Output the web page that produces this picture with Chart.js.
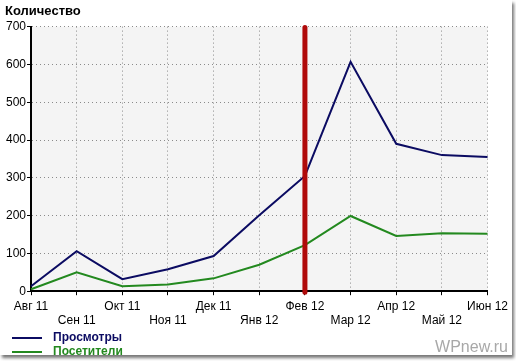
<!DOCTYPE html>
<html>
<head>
<meta charset="utf-8">
<script src="https://cdn.jsdelivr.net/npm/chart.js@4"></script>
<style>
  body { margin: 0; background: #fff; }
  #frame {
    position: absolute; left: 0; top: 0;
    width: 512px; height: 355px;
    background: #fff;
    box-shadow: 2px 3px 3px #777;
  }
</style>
</head>
<body>
<div id="frame"><canvas id="chart" width="512" height="355"></canvas></div>
<script>
// months on the x axis
const months = ["Авг 11", "Сен 11", "Окт 11", "Ноя 11", "Дек 11", "Янв 12", "Фев 12", "Мар 12", "Апр 12", "Май 12", "Июн 12"];
// Просмотры / Посетители
const views = [13, 106, 32, 58, 93, 201, 305, 607, 390, 360, 355];
const visitors = [5, 50, 13, 18, 34, 70, 122, 199, 146, 153, 152];
const markerIndex = 6; // red line at "Фев 12"

const font = "Liberation Sans, Arial, sans-serif";

// every second label goes on the lower line
const labels = months.map((m, i) => (i % 2 ? ["", m] : [m]));

const plotBg = {
  id: "plotBg",
  beforeDraw(chart) {
    const { ctx, chartArea: a } = chart;
    ctx.save();
    ctx.fillStyle = "#f4f4f4";
    ctx.fillRect(a.left, a.top, a.right - a.left, a.bottom - a.top);
    ctx.restore();
  },
};

const marker = {
  id: "marker",
  afterDatasetsDraw(chart) {
    const { ctx, chartArea: a } = chart;
    const x = chart.scales.x.getPixelForValue(markerIndex);
    ctx.save();
    ctx.strokeStyle = "#b00a0a";
    ctx.lineWidth = 5;
    ctx.lineCap = "round";
    ctx.beginPath();
    ctx.moveTo(x, a.top + 1);
    ctx.lineTo(x, a.bottom + 1);
    ctx.stroke();
    ctx.restore();
  },
};

const extras = {
  id: "extras",
  afterDraw(chart) {
    const ctx = chart.ctx;
    ctx.save();
    chart.data.datasets.forEach((ds, i) => {
      const y = 338 + i * 14;
      ctx.strokeStyle = ds.borderColor;
      ctx.lineWidth = 2;
      ctx.beginPath();
      ctx.moveTo(12, y);
      ctx.lineTo(42, y);
      ctx.stroke();
      ctx.fillStyle = ds.borderColor;
      ctx.font = "bold 12px " + font;
      ctx.textBaseline = "middle";
      ctx.fillText(ds.label, 53, y);
    });
    ctx.fillStyle = "#a8a8a8";
    ctx.font = "16px " + font;
    ctx.textAlign = "right";
    ctx.textBaseline = "alphabetic";
    ctx.fillText("WPnew.ru", 508, 352);
    ctx.restore();
  },
};

new Chart(document.getElementById("chart"), {
  type: "line",
  data: {
    labels: labels,
    datasets: [
      {
        label: "Просмотры",
        data: views,
        borderColor: "#0b0b62",
        borderWidth: 2,
        pointRadius: 0,
        tension: 0,
      },
      {
        label: "Посетители",
        data: visitors,
        borderColor: "#23891f",
        borderWidth: 2,
        pointRadius: 0,
        tension: 0,
      },
    ],
  },
  options: {
    responsive: false,
    animation: false,
    layout: { padding: { left: 5, right: 18, top: 0, bottom: 23 } },
    plugins: {
      legend: { display: false },
      tooltip: { enabled: false },
      title: {
        display: true,
        text: "Количество",
        align: "start",
        color: "#000",
        font: { family: font, size: 13, weight: "bold" },
        padding: { top: 4, bottom: 7 },
      },
    },
    scales: {
      x: {
        offset: false,
        grid: { color: "#8a8a8a", tickColor: "#000", tickLength: 4, tickWidth: 1 },
        border: { color: "#000", width: 2, dash: [1, 3] },
        ticks: {
          color: "#000",
          autoSkip: false,
          maxRotation: 0,
          padding: 4,
          font: { family: font, size: 12 },
        },
      },
      y: {
        min: 0,
        max: 700,
        grid: { color: "#8a8a8a", tickColor: "#000", tickLength: 4, tickWidth: 1 },
        border: { color: "#000", width: 2, dash: [1, 3] },
        ticks: {
          stepSize: 100,
          color: "#000",
          padding: 1,
          font: { family: font, size: 12 },
        },
      },
    },
  },
  plugins: [plotBg, marker, extras],
});
</script>
</body>
</html>
